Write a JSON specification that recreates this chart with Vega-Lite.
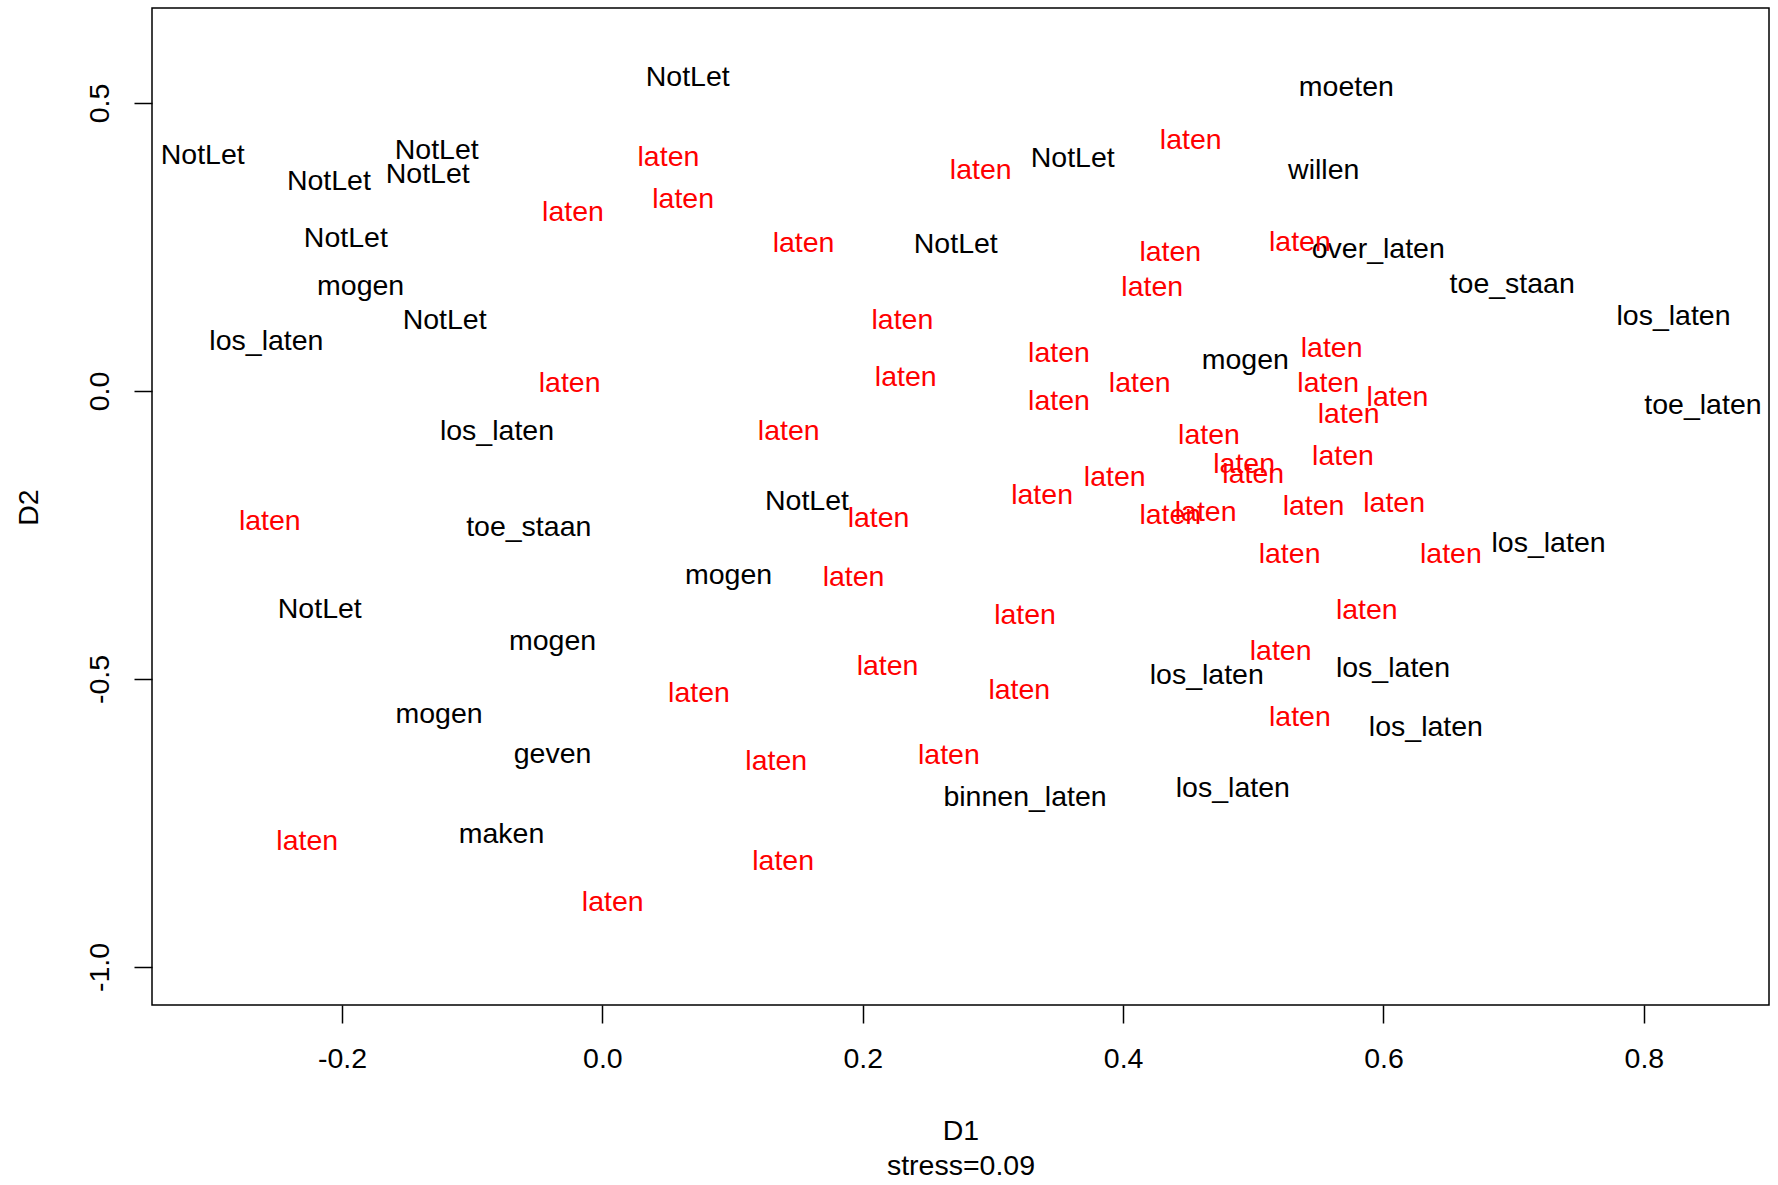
{
  "$schema": "https://vega.github.io/schema/vega-lite/v6.json",
  "autosize": {"type": "none"},
  "padding": {"left": 152, "top": 8, "right": 9, "bottom": 180},
  "width": 1617,
  "height": 997,
  "background": "white",
  "config": {
    "view": {"stroke": "black", "strokeWidth": 1.5},
    "font": "Liberation Sans"
  },
  "data": {
    "values": [
      {"D1": 0.0648, "D2": 0.547, "label": "NotLet", "cls": "other"},
      {"D1": -0.3077, "D2": 0.413, "label": "NotLet", "cls": "other"},
      {"D1": -0.128, "D2": 0.421, "label": "NotLet", "cls": "other"},
      {"D1": -0.2108, "D2": 0.368, "label": "NotLet", "cls": "other"},
      {"D1": -0.1349, "D2": 0.38, "label": "NotLet", "cls": "other"},
      {"D1": -0.1978, "D2": 0.269, "label": "NotLet", "cls": "other"},
      {"D1": -0.1864, "D2": 0.185, "label": "mogen", "cls": "other"},
      {"D1": -0.1219, "D2": 0.126, "label": "NotLet", "cls": "other"},
      {"D1": -0.2588, "D2": 0.09, "label": "los_laten", "cls": "other"},
      {"D1": -0.0817, "D2": -0.067, "label": "los_laten", "cls": "other"},
      {"D1": -0.0573, "D2": -0.233, "label": "toe_staan", "cls": "other"},
      {"D1": 0.1564, "D2": -0.189, "label": "NotLet", "cls": "other"},
      {"D1": 0.0962, "D2": -0.317, "label": "mogen", "cls": "other"},
      {"D1": -0.2178, "D2": -0.376, "label": "NotLet", "cls": "other"},
      {"D1": -0.039, "D2": -0.432, "label": "mogen", "cls": "other"},
      {"D1": -0.1262, "D2": -0.558, "label": "mogen", "cls": "other"},
      {"D1": -0.039, "D2": -0.627, "label": "geven", "cls": "other"},
      {"D1": -0.0782, "D2": -0.766, "label": "maken", "cls": "other"},
      {"D1": 0.3239, "D2": -0.703, "label": "binnen_laten", "cls": "other"},
      {"D1": 0.3605, "D2": 0.407, "label": "NotLet", "cls": "other"},
      {"D1": 0.2707, "D2": 0.258, "label": "NotLet", "cls": "other"},
      {"D1": 0.5707, "D2": 0.531, "label": "moeten", "cls": "other"},
      {"D1": 0.5533, "D2": 0.387, "label": "willen", "cls": "other"},
      {"D1": 0.5952, "D2": 0.25, "label": "over_laten", "cls": "other"},
      {"D1": 0.6981, "D2": 0.189, "label": "toe_staan", "cls": "other"},
      {"D1": 0.822, "D2": 0.132, "label": "los_laten", "cls": "other"},
      {"D1": 0.8446, "D2": -0.022, "label": "toe_laten", "cls": "other"},
      {"D1": 0.4931, "D2": 0.057, "label": "mogen", "cls": "other"},
      {"D1": 0.726, "D2": -0.262, "label": "los_laten", "cls": "other"},
      {"D1": 0.4635, "D2": -0.491, "label": "los_laten", "cls": "other"},
      {"D1": 0.6065, "D2": -0.479, "label": "los_laten", "cls": "other"},
      {"D1": 0.6318, "D2": -0.581, "label": "los_laten", "cls": "other"},
      {"D1": 0.4835, "D2": -0.686, "label": "los_laten", "cls": "other"},
      {"D1": 0.05, "D2": 0.409, "label": "laten", "cls": "laten"},
      {"D1": 0.0613, "D2": 0.336, "label": "laten", "cls": "laten"},
      {"D1": -0.0233, "D2": 0.313, "label": "laten", "cls": "laten"},
      {"D1": 0.1538, "D2": 0.26, "label": "laten", "cls": "laten"},
      {"D1": 0.2899, "D2": 0.387, "label": "laten", "cls": "laten"},
      {"D1": 0.4512, "D2": 0.439, "label": "laten", "cls": "laten"},
      {"D1": 0.4355, "D2": 0.244, "label": "laten", "cls": "laten"},
      {"D1": 0.4216, "D2": 0.183, "label": "laten", "cls": "laten"},
      {"D1": 0.535, "D2": 0.261, "label": "laten", "cls": "laten"},
      {"D1": 0.2297, "D2": 0.126, "label": "laten", "cls": "laten"},
      {"D1": 0.2323, "D2": 0.027, "label": "laten", "cls": "laten"},
      {"D1": 0.35, "D2": 0.0685, "label": "laten", "cls": "laten"},
      {"D1": 0.35, "D2": -0.014, "label": "laten", "cls": "laten"},
      {"D1": 0.412, "D2": 0.017, "label": "laten", "cls": "laten"},
      {"D1": -0.0259, "D2": 0.017, "label": "laten", "cls": "laten"},
      {"D1": 0.1424, "D2": -0.067, "label": "laten", "cls": "laten"},
      {"D1": 0.4652, "D2": -0.073, "label": "laten", "cls": "laten"},
      {"D1": 0.5594, "D2": 0.078, "label": "laten", "cls": "laten"},
      {"D1": 0.5568, "D2": 0.017, "label": "laten", "cls": "laten"},
      {"D1": 0.61, "D2": -0.008, "label": "laten", "cls": "laten"},
      {"D1": 0.5725, "D2": -0.038, "label": "laten", "cls": "laten"},
      {"D1": 0.5681, "D2": -0.111, "label": "laten", "cls": "laten"},
      {"D1": 0.4922, "D2": -0.124, "label": "laten", "cls": "laten"},
      {"D1": 0.4992, "D2": -0.142, "label": "laten", "cls": "laten"},
      {"D1": 0.3928, "D2": -0.146, "label": "laten", "cls": "laten"},
      {"D1": 0.337, "D2": -0.178, "label": "laten", "cls": "laten"},
      {"D1": 0.2114, "D2": -0.217, "label": "laten", "cls": "laten"},
      {"D1": 0.4355, "D2": -0.213, "label": "laten", "cls": "laten"},
      {"D1": 0.4626, "D2": -0.207, "label": "laten", "cls": "laten"},
      {"D1": 0.5455, "D2": -0.197, "label": "laten", "cls": "laten"},
      {"D1": 0.6074, "D2": -0.191, "label": "laten", "cls": "laten"},
      {"D1": 0.5271, "D2": -0.28, "label": "laten", "cls": "laten"},
      {"D1": 0.651, "D2": -0.28, "label": "laten", "cls": "laten"},
      {"D1": 0.1922, "D2": -0.321, "label": "laten", "cls": "laten"},
      {"D1": -0.2562, "D2": -0.223, "label": "laten", "cls": "laten"},
      {"D1": 0.3239, "D2": -0.386, "label": "laten", "cls": "laten"},
      {"D1": 0.5864, "D2": -0.378, "label": "laten", "cls": "laten"},
      {"D1": 0.5202, "D2": -0.449, "label": "laten", "cls": "laten"},
      {"D1": 0.2183, "D2": -0.475, "label": "laten", "cls": "laten"},
      {"D1": 0.0735, "D2": -0.522, "label": "laten", "cls": "laten"},
      {"D1": 0.3195, "D2": -0.516, "label": "laten", "cls": "laten"},
      {"D1": 0.535, "D2": -0.563, "label": "laten", "cls": "laten"},
      {"D1": 0.2654, "D2": -0.63, "label": "laten", "cls": "laten"},
      {"D1": 0.1328, "D2": -0.64, "label": "laten", "cls": "laten"},
      {"D1": -0.2274, "D2": -0.778, "label": "laten", "cls": "laten"},
      {"D1": 0.1381, "D2": -0.814, "label": "laten", "cls": "laten"},
      {"D1": 0.0072, "D2": -0.884, "label": "laten", "cls": "laten"}
    ]
  },
  "mark": {
    "type": "text",
    "font": "Liberation Sans",
    "fontSize": 28.5,
    "align": "center",
    "baseline": "middle",
    "dx": 1,
    "dy": 1.5
  },
  "encoding": {
    "x": {
      "field": "D1",
      "type": "quantitative",
      "scale": {"domain": [-0.3459, 0.8961], "nice": false, "zero": false},
      "axis": {
        "values": [-0.2, 0, 0.2, 0.4, 0.6, 0.8],
        "labelExpr": "replace(format(datum.value, '.1f'), '\u2212', '-')",
        "grid": false,
        "domain": false,
        "ticks": true,
        "tickSize": 18,
        "tickColor": "black",
        "tickWidth": 1.5,
        "labelFont": "Liberation Sans",
        "labelFontSize": 28.5,
        "labelColor": "black",
        "labelPadding": 21,
        "labelBaseline": "top",
        "labelFlush": false,
        "labelOverlap": false,
        "title": ["D1", "stress=0.09"],
        "titleFont": "Liberation Sans",
        "titleFontSize": 28.5,
        "titleFontWeight": "normal",
        "titleColor": "black",
        "titleBaseline": "alphabetic",
        "titleLineHeight": 35,
        "titleAnchor": "middle",
        "titleY": 134
      }
    },
    "y": {
      "field": "D2",
      "type": "quantitative",
      "scale": {"domain": [-1.066, 0.665], "nice": false, "zero": false},
      "axis": {
        "values": [-1, -0.5, 0, 0.5],
        "labelExpr": "replace(format(datum.value, '.1f'), '\u2212', '-')",
        "grid": false,
        "domain": false,
        "ticks": true,
        "tickSize": 18,
        "tickColor": "black",
        "tickWidth": 1.5,
        "labelFont": "Liberation Sans",
        "labelFontSize": 28.5,
        "labelColor": "black",
        "labelAngle": 270,
        "labelAlign": "center",
        "labelBaseline": "alphabetic",
        "labelPadding": 26,
        "labelFlush": false,
        "labelOverlap": false,
        "title": "D2",
        "titleFont": "Liberation Sans",
        "titleFontSize": 28.5,
        "titleFontWeight": "normal",
        "titleColor": "black",
        "titleAngle": 270,
        "titleAlign": "center",
        "titleBaseline": "alphabetic",
        "titleX": -115,
        "titleY": 499
      }
    },
    "text": {"field": "label"},
    "color": {
      "field": "cls",
      "type": "nominal",
      "scale": {"domain": ["other", "laten"], "range": ["black", "red"]},
      "legend": null
    }
  }
}
